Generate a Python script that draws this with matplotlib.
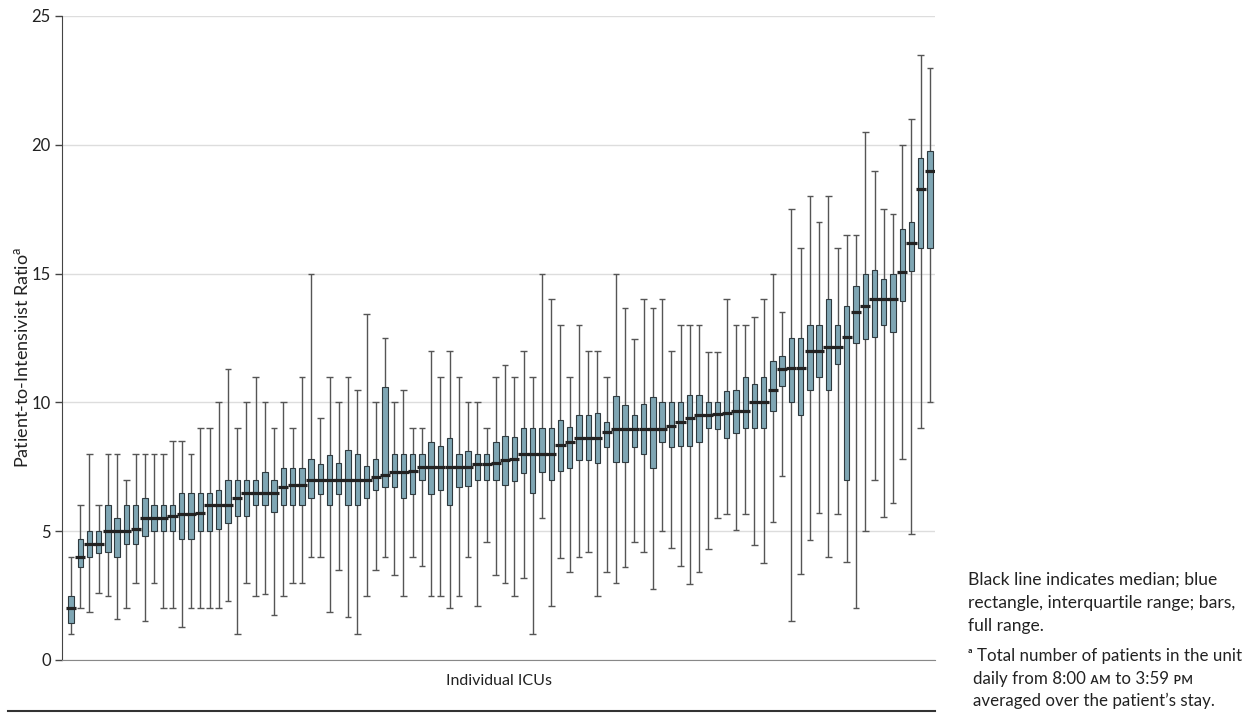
import matplotlib
matplotlib.use('Agg')
import matplotlib.pyplot as plt

plt.rcParams['font.family'] = ['Lato', 'DejaVu Sans']
plt.rcParams['mathtext.fontset'] = 'custom'
plt.rcParams['mathtext.rm'] = 'Lato'

# per-ICU distribution of the patient-to-intensivist ratio
# (sorted by median, as in the original)
lows = [1.0, 2.0, 1.85, 2.6, 2.5, 1.6, 2.0, 3.0, 1.5, 3.0,
        2.0, 2.0, 1.3, 2.0, 2.0, 2.0, 2.0, 2.3, 1.0, 3.0,
        2.5, 2.55, 1.75, 2.5, 3.0, 3.0, 4.0, 4.0, 1.85, 3.5,
        1.65, 1.0, 2.5, 3.5, 4.0, 3.3, 2.5, 4.0, 3.65, 2.5,
        2.5, 2.0, 2.5, 4.0, 2.1, 4.6, 3.3, 3.0, 2.5, 3.2,
        1.0, 5.5, 2.1, 3.95, 3.4, 4.0, 4.2, 2.5, 3.4, 3.0,
        3.6, 4.6, 4.2, 2.75, 5.0, 4.35, 3.65, 2.95, 3.4, 4.3,
        5.5, 5.65, 5.05, 5.65, 4.45, 3.75, 5.35, 7.15, 1.5, 3.35,
        4.65, 5.7, 4.0, 5.65, 3.8, 2.0, 5.0, 7.0, 5.55, 6.1,
        7.8, 4.9, 9.0, 10.0]
q1s = [1.45, 3.6, 4.0, 4.15, 4.2, 4.0, 4.5, 4.5, 4.8, 5.0,
       5.0, 5.0, 4.7, 4.7, 5.0, 5.0, 5.1, 5.3, 5.6, 5.6,
       6.0, 6.0, 5.75, 6.0, 6.0, 6.0, 6.3, 6.45, 6.0, 6.45,
       6.0, 6.0, 6.3, 6.6, 6.7, 6.7, 6.3, 6.45, 7.0, 6.45,
       6.6, 6.0, 6.7, 6.75, 7.0, 7.0, 7.0, 6.8, 6.95, 7.25,
       6.5, 7.3, 7.0, 7.35, 7.45, 7.75, 7.75, 7.65, 8.25, 7.7,
       7.7, 8.25, 8.0, 7.45, 8.45, 8.25, 8.3, 8.3, 8.45, 9.0,
       8.95, 8.6, 8.8, 9.0, 9.0, 9.0, 9.65, 10.65, 10.0, 9.5,
       10.5, 11.0, 10.5, 11.5, 7.0, 12.3, 12.45, 12.55, 13.0, 12.75,
       13.95, 15.1, 16.0, 16.0]
medians = [2.0, 4.0, 4.5, 4.5, 5.0, 5.0, 5.0, 5.1, 5.5, 5.5,
           5.5, 5.6, 5.65, 5.65, 5.7, 6.0, 6.0, 6.0, 6.3, 6.5,
           6.5, 6.5, 6.5, 6.7, 6.8, 6.8, 7.0, 7.0, 7.0, 7.0,
           7.0, 7.0, 7.0, 7.1, 7.2, 7.3, 7.3, 7.35, 7.5, 7.5,
           7.5, 7.5, 7.5, 7.5, 7.6, 7.6, 7.65, 7.75, 7.8, 8.0,
           8.0, 8.0, 8.0, 8.35, 8.45, 8.6, 8.6, 8.6, 8.85, 8.95,
           8.95, 8.95, 8.95, 8.95, 8.95, 9.1, 9.25, 9.4, 9.5, 9.5,
           9.55, 9.6, 9.65, 9.65, 10.0, 10.0, 10.5, 11.3, 11.35, 11.35,
           12.0, 12.0, 12.15, 12.15, 12.55, 13.5, 13.75, 14.0, 14.0, 14.0,
           15.05, 16.2, 18.3, 19.0]
q3s = [2.5, 4.7, 5.0, 5.0, 6.0, 5.5, 6.0, 6.0, 6.3, 6.0,
       6.0, 6.0, 6.5, 6.5, 6.5, 6.5, 6.6, 7.0, 7.0, 7.0,
       7.0, 7.3, 7.0, 7.45, 7.45, 7.45, 7.8, 7.6, 7.95, 7.65,
       8.15, 8.0, 7.55, 7.8, 10.6, 8.0, 8.0, 8.0, 8.0, 8.45,
       8.3, 8.6, 8.0, 8.1, 8.0, 8.0, 8.45, 8.7, 8.65, 9.0,
       9.0, 9.0, 9.0, 9.3, 9.05, 9.5, 9.5, 9.6, 9.25, 10.25,
       9.9, 9.5, 9.95, 10.2, 10.0, 10.0, 10.0, 10.3, 10.3, 10.0,
       10.0, 10.45, 10.5, 11.0, 10.7, 11.0, 11.6, 11.8, 12.5, 12.5,
       13.0, 13.0, 14.0, 13.0, 13.75, 14.5, 15.0, 15.15, 14.8, 15.0,
       16.75, 17.0, 19.5, 19.75]
highs = [4.0, 6.0, 8.0, 6.0, 8.0, 8.0, 7.0, 8.0, 8.0, 8.0,
         8.0, 8.5, 8.5, 8.0, 9.0, 9.0, 10.0, 11.3, 9.0, 10.0,
         11.0, 10.0, 9.0, 10.0, 9.0, 11.0, 15.0, 9.4, 11.0, 10.0,
         11.0, 10.5, 13.45, 10.0, 12.5, 10.0, 10.5, 9.0, 9.0, 12.0,
         11.0, 12.0, 11.0, 10.0, 10.0, 9.0, 11.0, 11.45, 11.0, 12.0,
         11.0, 15.0, 14.0, 13.0, 11.0, 13.0, 12.0, 12.0, 11.0, 15.0,
         13.65, 12.45, 14.0, 13.65, 14.0, 12.0, 13.0, 13.0, 13.0, 11.95,
         11.95, 14.0, 13.0, 13.0, 13.3, 14.0, 15.0, 13.5, 17.5, 16.0,
         18.0, 17.0, 18.0, 16.0, 16.5, 16.5, 20.5, 19.0, 17.5, 17.3,
         20.0, 21.0, 23.5, 23.0]
icus = list(range(1, len(medians) + 1))

yticks = [0, 5, 10, 15, 20, 25]

fig = plt.figure(figsize=(12.54, 7.13), dpi=100)
ax = fig.add_axes([62/1254, 1 - 660/713, 873/1254, 644/713])

# full range bars with caps
ax.vlines(icus, lows, highs, color='#555555', lw=1.0, zorder=2)
ax.hlines(lows, [i - 0.36 for i in icus], [i + 0.36 for i in icus], color='#555555', lw=1.0, zorder=2)
ax.hlines(highs, [i - 0.36 for i in icus], [i + 0.36 for i in icus], color='#555555', lw=1.0, zorder=2)
# interquartile boxes
ax.bar(icus, [b - a for a, b in zip(q1s, q3s)], bottom=q1s, width=0.58,
       color='#7fa6b4', edgecolor='#2f3a3f', lw=0.8, zorder=3)
# medians
ax.hlines(medians, [i - 0.55 for i in icus], [i + 0.55 for i in icus], color='#222222', lw=2.3, zorder=4)

ax.set_xlim(0.03, 94.55)
ax.set_ylim(0, 25)
ax.set_yticks(yticks)
ax.set_xticks([])
ax.yaxis.grid(True, color='#dddddd', lw=1.0)
ax.set_axisbelow(True)
for s in ['top', 'right']:
    ax.spines[s].set_visible(False)
ax.spines['left'].set_color('#444444')
ax.spines['bottom'].set_color('#888888')
ax.tick_params(axis='y', length=5, width=1, color='#444444', labelsize=12, labelcolor='#222222', pad=3)

ax.set_ylabel('Patient-to-Intensivist Ratio$^{\\mathregular{a}}$', fontsize=13, color='#222222')
ax.yaxis.set_label_coords(-0.0355, 0.47)
ax.set_xlabel('Individual ICUs', fontsize=11.5, color='#222222', labelpad=10)

# rule under the chart
fig.add_artist(plt.Line2D([8/1254, 935/1254], [1 - 711/713] * 2, color='#333333', lw=1.5))

# notes on the right
notes = ['Black line indicates median; blue', 'rectangle, interquartile range; bars,', 'full range.']
note_y = [585, 608, 631]
for s, y in zip(notes, note_y):
    fig.text(968/1254, 1 - y/713, s, fontsize=12.6, color='#222222', va='baseline', ha='left')

foot = ['ᵃ Total number of patients in the unit', 'daily from 8:00 ᴀᴍ to 3:59 ᴘᴍ', 'averaged over the patient\u2019s stay.']
foot_x = [968, 973, 973]
foot_y = [661, 684, 706]
for s, x, y in zip(foot, foot_x, foot_y):
    fig.text(x/1254, 1 - y/713, s, fontsize=12.2, color='#222222', va='baseline', ha='left')

fig.savefig('out.png', dpi=100)
